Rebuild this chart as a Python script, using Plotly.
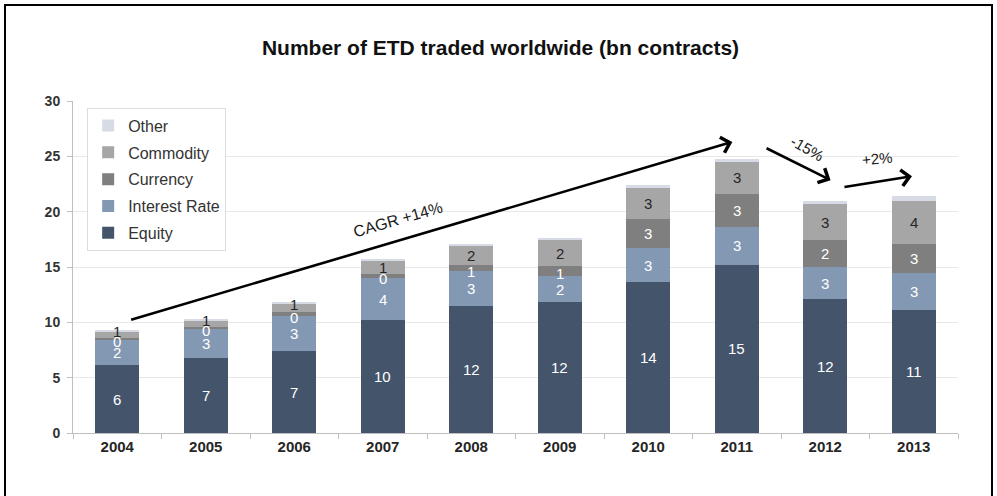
import plotly.graph_objects as go

# Exchange-traded derivatives volume by asset class (bn contracts)
years = ["2004", "2005", "2006", "2007", "2008", "2009", "2010", "2011", "2012", "2013"]
equity = [6.1, 6.8, 7.4, 10.2, 11.5, 11.8, 13.6, 15.2, 12.1, 11.1]
interest_rate = [2.3, 2.6, 3.2, 3.8, 3.1, 2.4, 3.1, 3.4, 2.9, 3.4]
currency = [0.2, 0.2, 0.3, 0.4, 0.6, 0.9, 2.6, 3.0, 2.4, 2.6]
commodity = [0.6, 0.6, 0.8, 1.2, 1.7, 2.3, 2.8, 2.9, 3.3, 3.9]
other = [0.1, 0.1, 0.1, 0.1, 0.1, 0.2, 0.3, 0.3, 0.3, 0.4]
y_ticks = [0, 5, 10, 15, 20, 25, 30]

FONT = "Liberation Sans, Arial, sans-serif"

# name, values, fill colour, value-label colour (None = unlabelled), legend rank
series = [
    ("Equity", equity, "#44546A", "white", 5),
    ("Interest Rate", interest_rate, "#8398B3", "white", 4),
    ("Currency", currency, "#7F7F7F", "white", 3),
    ("Commodity", commodity, "#A6A6A6", "#262626", 2),
    ("Other", other, "#D7DBE6", None, 1),
]

fig = go.Figure()
annotations = []
base = [0.0] * len(years)
for name, vals, color, txtcolor, rank in series:
    fig.add_trace(go.Bar(
        x=years, y=vals, name=name, marker=dict(color=color, line=dict(width=0)),
        legendgroup=name, legendrank=rank, hoverinfo="skip",
    ))
    if txtcolor is not None:
        for i, v in enumerate(vals):
            # thin slices: nudge the labels apart so stacked digits stay legible
            shift = 0
            if v < 1.0 and name == "Currency":
                shift = -3
            elif v < 1.0 and name == "Commodity":
                shift = 3
            annotations.append(dict(
                x=i, y=base[i] + v / 2, xref="x", yref="y",
                text=f"{v:.0f}", showarrow=False, yshift=shift,
                font=dict(family=FONT, size=15, color=txtcolor),
            ))
    base = [b + v for b, v in zip(base, vals)]

arrow = dict(showarrow=True, arrowhead=4, arrowsize=1.2, arrowwidth=2.6,
             arrowcolor="black", xref="x", yref="y", axref="x", ayref="y", text="")
annotations += [
    dict(x=6.95, y=26.3, ax=0.14, ay=10.2, **arrow),
    dict(x=8.06, y=22.85, ax=7.32, ay=25.8, **arrow),
    dict(x=8.98, y=23.2, ax=8.20, ay=22.2, **arrow),
    dict(x=3.17, y=19.3, xref="x", yref="y", text="CAGR +14%", showarrow=False,
         textangle=-16, font=dict(family=FONT, size=16, color="#1a1a1a")),
    dict(x=7.80, y=25.75, xref="x", yref="y", text="-15%", showarrow=False,
         textangle=30, font=dict(family=FONT, size=15, color="#1a1a1a")),
    dict(x=8.59, y=24.8, xref="x", yref="y", text="+2%", showarrow=False,
         textangle=-5, font=dict(family=FONT, size=15, color="#1a1a1a")),
]

fig.update_layout(
    width=997, height=496,
    margin=dict(l=73, r=39, t=101, b=63, autoexpand=False),
    paper_bgcolor="white", plot_bgcolor="white",
    barmode="stack", bargap=0.5,
    title=dict(text="<b>Number of ETD traded worldwide (bn contracts)</b>",
               x=0.502, xanchor="center", y=0.903, yanchor="middle",
               font=dict(family=FONT, size=21, color="#111111")),
    font=dict(family=FONT, color="#333333"),
    showlegend=True,
    legend=dict(
        x=0.016, y=0.98, xanchor="left", yanchor="top",
        traceorder="grouped", tracegroupgap=3,
        bgcolor="white", bordercolor="#DDDDDD", borderwidth=1,
        font=dict(family=FONT, size=16, color="#333333"),
        itemwidth=30,
    ),
    xaxis=dict(
        type="category", range=[-0.5, len(years) - 0.5],
        showgrid=False, showline=True, linecolor="#BFBFBF",
        linewidth=1, ticks="outside", tickson="boundaries", ticklen=5,
        tickcolor="#BFBFBF",
        tickfont=dict(family=FONT, size=15, color="#262626", weight="bold"),
    ),
    yaxis=dict(
        range=[0, 30], tickvals=y_ticks, showgrid=True, gridcolor="#E8E8E8",
        showline=True, linecolor="#BFBFBF", ticks="outside", ticklen=5,
        tickcolor="#BFBFBF", zeroline=False, ticklabelstandoff=4,
        tickfont=dict(family=FONT, size=14, color="#333333", weight="bold"),
    ),
    annotations=annotations,
    shapes=[dict(type="rect", xref="paper", yref="paper",
                 x0=(5 - 73) / 885, x1=(992 - 73) / 885,
                 y0=(433 - 520) / 332, y1=(433 - 5) / 332,
                 line=dict(color="black", width=2), fillcolor="rgba(0,0,0,0)",
                 layer="above")],
)

fig.write_html("out.html")
